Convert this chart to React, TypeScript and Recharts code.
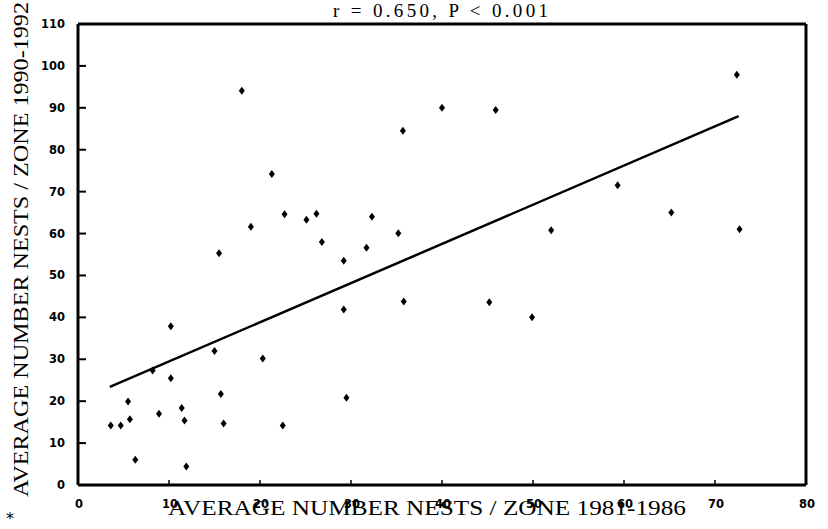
import React from "react";
import {
  ScatterChart,
  Scatter,
  XAxis,
  YAxis,
  ReferenceLine,
} from "recharts";

const nests1981: number[] = [
  3.6, 4.7, 5.5, 5.7, 6.3, 8.2, 8.9, 10.2, 11.4, 11.7, 11.9, 15.0, 15.7, 16.0,
  20.3, 22.5, 29.5, 10.2, 15.5, 19.0, 21.3, 22.7, 25.1, 26.2, 26.8, 29.2, 29.2,
  31.7, 32.3, 35.2, 35.8, 18.0, 35.7, 40.0, 45.9, 72.4, 59.3, 65.2, 72.7, 52.0,
  45.2, 49.9,
];
const nests1990: number[] = [
  14.2, 14.2, 19.9, 15.7, 6.0, 27.3, 17.0, 25.5, 18.4, 15.4, 4.4, 32.0, 21.7,
  14.7, 30.2, 14.2, 20.8, 37.9, 55.3, 61.6, 74.2, 64.6, 63.3, 64.7, 58.0, 53.5,
  41.9, 56.6, 64.0, 60.1, 43.8, 94.1, 84.5, 90.0, 89.5, 97.9, 71.5, 65.0, 61.0,
  60.8, 43.6, 40.0,
];
const fitX: number[] = [3.5, 72.6];
const fitY: number[] = [23.4, 88.0];
const xTicks: number[] = [0, 10, 20, 30, 40, 50, 60, 70, 80];
const yTicks: number[] = [0, 10, 20, 30, 40, 50, 60, 70, 80, 90, 100, 110];

const titleText = "r = 0.650, P < 0.001";
const xLabel = "AVERAGE NUMBER NESTS / ZONE 1981-1986";
const yLabel = "AVERAGE NUMBER NESTS / ZONE 1990-1992";

const points = nests1981.map((x, i) => ({ x, y: nests1990[i] }));
const fitData = fitX.map((x, i) => ({ x, y: fitY[i] }));

const tickFont = {
  fontFamily: "'DejaVu Sans', sans-serif",
  fontWeight: 700,
  fontSize: 11.5,
  fill: "#000",
};

const YTick = (props: any) => {
  const { x, y, payload } = props;
  return (
    <g>
      <line x1={x} x2={x + 8} y1={y} y2={y} stroke="#000" strokeWidth={2} />
      <text x={x - 13} y={y + 4} textAnchor="end" {...tickFont}>
        {payload.value}
      </text>
    </g>
  );
};

const XTick = (props: any) => {
  const { x, y, payload } = props;
  return (
    <g>
      <line x1={x} x2={x} y1={y} y2={y - 5} stroke="#000" strokeWidth={1.5} />
      <text x={x + 1} y={y + 23} textAnchor="middle" {...tickFont}>
        {payload.value}
      </text>
    </g>
  );
};

const Diamond = (props: any) => {
  const { cx, cy } = props;
  if (cx == null || cy == null) return <g />;
  return (
    <path
      d={`M${cx},${cy - 4} L${cx + 3},${cy} L${cx},${cy + 4} L${cx - 3},${cy} Z`}
      fill="#000"
    />
  );
};

const NoShape = () => <g />;

export default function App() {
  return (
    <div
      style={{
        position: "absolute",
        left: 0,
        top: 0,
        width: 828,
        height: 529,
        background: "#fff",
      }}
    >
      <ScatterChart
        width={828}
        height={529}
        margin={{ top: 24, right: 22, left: 0, bottom: 0 }}
      >
        <XAxis
          type="number"
          dataKey="x"
          domain={[0, 80]}
          ticks={xTicks}
          interval={0}
          height={44}
          tickSize={0}
          tickMargin={0}
          tickLine={false}
          axisLine={{ stroke: "#000", strokeWidth: 3 }}
          tick={<XTick />}
        />
        <YAxis
          type="number"
          dataKey="y"
          domain={[0, 110]}
          ticks={yTicks}
          interval={0}
          width={78}
          tickSize={0}
          tickMargin={0}
          tickLine={false}
          axisLine={{ stroke: "#000", strokeWidth: 3 }}
          tick={<YTick />}
        />
        <ReferenceLine y={110} stroke="#000" strokeWidth={3} ifOverflow="visible" />
        <ReferenceLine x={80} stroke="#000" strokeWidth={3} ifOverflow="visible" />
        <Scatter
          data={fitData}
          line={{ stroke: "#000", strokeWidth: 2.5 }}
          shape={<NoShape />}
          isAnimationActive={false}
          legendType="none"
        />
        <Scatter
          data={points}
          shape={<Diamond />}
          fill="#000"
          isAnimationActive={false}
        />
      </ScatterChart>
      <svg
        width={828}
        height={529}
        style={{ position: "absolute", left: 0, top: 0, pointerEvents: "none" }}
      >
        <text
          x={333}
          y={17}
          textLength={215}
          lengthAdjust="spacing"
          fontFamily="'Liberation Serif', serif"
          fontSize={19}
          fill="#000"
        >
          {titleText}
        </text>
        <text
          x={168}
          y={515}
          textLength={518}
          lengthAdjust="spacingAndGlyphs"
          fontFamily="'Liberation Serif', serif"
          fontSize={22}
          fill="#000"
        >
          {xLabel}
        </text>
        <text
          transform="translate(28,497) rotate(-90)"
          x={0}
          y={0}
          textLength={495}
          lengthAdjust="spacingAndGlyphs"
          fontFamily="'Liberation Serif', serif"
          fontSize={22}
          fill="#000"
        >
          {yLabel}
        </text>
        <text
          x={6}
          y={524}
          fontFamily="'DejaVu Sans', sans-serif"
          fontSize={16}
          fill="#000"
        >
          *
        </text>
      </svg>
    </div>
  );
}
